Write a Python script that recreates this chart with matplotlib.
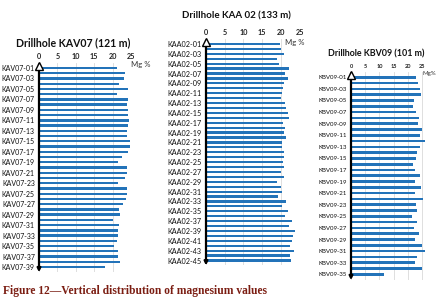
import matplotlib
matplotlib.use('Agg')
import matplotlib.pyplot as plt

# ---------------- data ----------------
kav07_labels = [f'KAV07-{i:02d}' for i in range(1, 40)]
kav07_mg = [21.3, 23.5, 23.1, 21.8, 24.1, 21.1, 24.1, 23.9, 24.1, 24.1,
            24.4, 24.2, 23.9, 23.8, 24.7, 24.7, 24.2, 22.5, 21.6, 23.9,
            24.0, 23.5, 21.6, 23.9, 23.8, 23.6, 22.9, 21.8, 22.0, 20.2,
            21.7, 21.6, 21.4, 21.3, 20.4, 21.5, 21.6, 21.9, 17.9]

kaa02_labels = [f'KAA02-{i:02d}' for i in range(1, 46)]
kaa02_mg = [19.8, 20.1, 20.7, 19.0, 19.6, 22.1, 21.1, 21.9, 20.7, 20.5,
            20.4, 19.9, 21.1, 21.4, 21.8, 22.1, 20.5, 21.1, 20.9, 21.3,
            20.4, 20.4, 20.7, 20.7, 20.5, 20.9, 20.0, 20.9, 18.9, 20.0,
            20.2, 19.3, 21.3, 20.4, 21.9, 21.2, 22.9, 22.2, 23.7, 23.2,
            23.0, 22.4, 23.4, 22.5, 22.8]

kbv09_labels = [f'KBV09-{i:02d}' for i in range(1, 36)]
kbv09_mg = [22.9, 23.5, 24.2, 24.6, 22.2, 21.7, 22.9, 23.9, 23.5, 25.0,
            24.3, 26.1, 24.2, 23.1, 22.8, 21.9, 22.4, 24.3, 22.5, 24.5,
            22.7, 25.4, 23.0, 23.2, 21.5, 23.1, 22.1, 24.1, 22.7, 25.0,
            25.9, 23.4, 22.5, 24.9, 11.6]

x_ticks = [0, 5, 10, 15, 20, 25]
titles = ['Drillhole KAV07 (121 m)', 'Drillhole KAA 02 (133 m)', 'Drillhole KBV09 (101 m)']
unit_labels = ['Mg %', 'Mg %', 'Mg%']
caption = 'Figure 12\u2014Vertical distribution of magnesium values'

# ---------------- layout ----------------
W, H = 443, 305
fig = plt.figure(figsize=(W / 100, H / 100), dpi=100)
FONT = ['Lato', 'DejaVu Sans']
BLUE = '#2373b9'

panels = [
    dict(labels=kav07_labels, vals=kav07_mg, x0=39, x25=131, yb0=68, yb1=267, xmax=25,
         title_xy=(73, 43), tsize=7.6, unit_xy=(141, 65), ticksz=5.2, labsz=5.0),
    dict(labels=kaa02_labels, vals=kaa02_mg, x0=206, x25=299.7, yb0=44, yb1=260.5, xmax=25,
         title_xy=(236, 16), tsize=7.0, unit_xy=(295, 43), ticksz=5.2, labsz=5.2),
    dict(labels=kbv09_labels, vals=kbv09_mg, x0=351, x25=422, yb0=77.3, yb1=274.3, xmax=27,
         title_xy=(376, 54), tsize=6.4, unit_xy=(429, 73), ticksz=4.0, labsz=4.4),
]

m = 1.0
for p, title, unit in zip(panels, titles, unit_labels):
    n = len(p['vals'])
    ppu_y = (p['yb1'] - p['yb0']) / (n - 1)
    ytop = p['yb0'] - m * ppu_y
    ybot = p['yb1'] + m * ppu_y
    ppu_x = (p['x25'] - p['x0']) / 25
    xright = p['x0'] + p['xmax'] * ppu_x
    ax = fig.add_axes([p['x0'] / W, 1 - ybot / H, (xright - p['x0']) / W, (ybot - ytop) / H])
    pos = list(range(n))
    ax.barh(pos, p['vals'], height=0.45, color=BLUE, zorder=2)
    ax.set_xlim(0, p['xmax'])
    ax.set_ylim(n - 1 + m, -m)
    for s in ax.spines.values():
        s.set_visible(False)
    ax.set_xticks(x_ticks)
    ax.xaxis.tick_top()
    ax.grid(axis='x', color='#d9d9d9', lw=0.6, zorder=0)
    ax.tick_params(axis='x', length=0, labelsize=p['ticksz'], pad=2, labelcolor='#222222')
    for t in ax.get_xticklabels():
        t.set_fontfamily(FONT)
        t.set_fontweight('bold')
    ax.set_yticks(pos[::2])
    ax.set_yticklabels(p['labels'][::2], fontsize=p['labsz'], family=FONT, color='#111111')
    ax.tick_params(axis='y', length=0, pad=3)
    # axis arrow
    ax.annotate('', xy=(0, n - 1 + m), xytext=(0, -m + 0.3),
                arrowprops=dict(arrowstyle='-|>', color='black', lw=1.6,
                                mutation_scale=5, shrinkA=0, shrinkB=0),
                annotation_clip=False, zorder=5)
    ax.plot([0], [-m + 0.55], marker='^', ms=6, mfc='white', mec='black', mew=1.0,
            clip_on=False, zorder=6)
    fig.text(p['title_xy'][0] / W, 1 - p['title_xy'][1] / H, title, ha='center', va='center',
             fontsize=p['tsize'], fontweight='bold', family=FONT, color='#111111')
    fig.text(p['unit_xy'][0] / W, 1 - p['unit_xy'][1] / H, unit, ha='center', va='center',
             fontsize=p['ticksz'] + 0.4, family=FONT, color='#333333')

fig.text(3 / W, 1 - 291 / H, caption, ha='left', va='center', fontsize=8.3,
         fontweight='bold', family=['Liberation Serif', 'DejaVu Serif'], color='#7b1d12')

fig.savefig('out.png', dpi=100)
